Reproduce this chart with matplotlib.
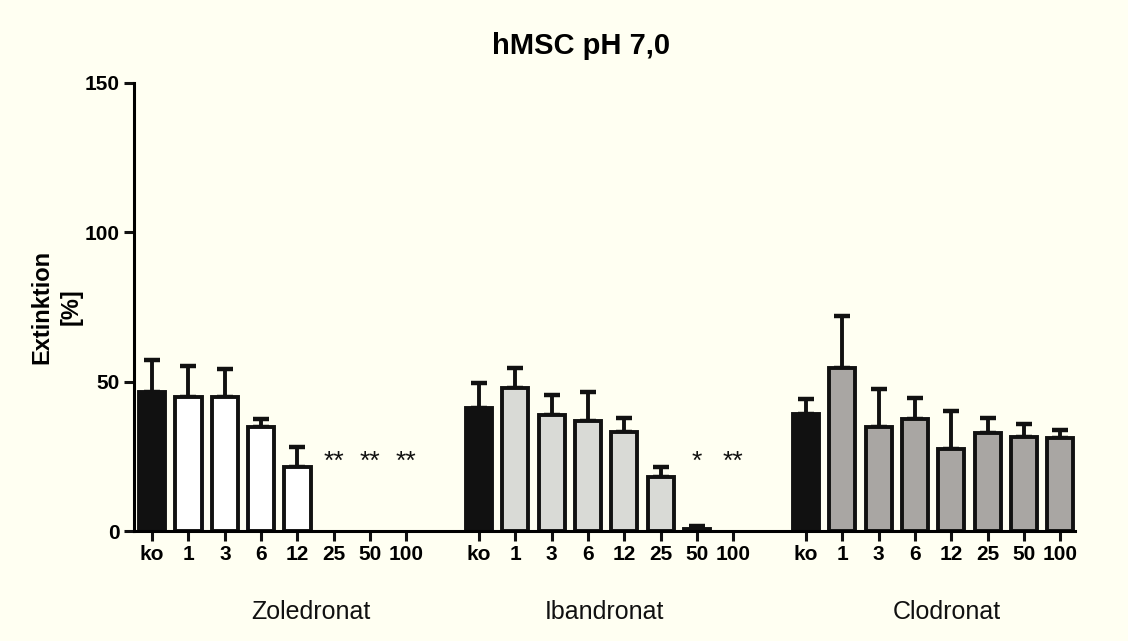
import matplotlib.pyplot as plt
import numpy as np

plt.rcParams['font.family'] = ['Liberation Sans', 'DejaVu Sans']

doses = ['ko', '1', '3', '6', '12', '25', '50', '100']
groups = ['Zoledronat', 'Ibandronat', 'Clodronat']

zol_mean = [46.5, 45.0, 45.0, 34.7, 21.5, 0, 0, 0]
zol_err = [10.7, 10.2, 9.2, 2.8, 6.7, 0, 0, 0]
iba_mean = [41.3, 47.8, 38.8, 36.9, 33.1, 18.0, 0.6, 0]
iba_err = [8.3, 6.7, 6.7, 9.7, 4.6, 3.5, 1.2, 0]
clo_mean = [39.1, 54.5, 34.8, 37.4, 27.3, 32.9, 31.5, 31.1]
clo_err = [5.2, 17.5, 12.8, 7.2, 12.9, 4.8, 4.3, 2.7]

zol_stars = ['', '', '', '', '', '**', '**', '**']
iba_stars = ['', '', '', '', '', '', '*', '**']
clo_stars = ['', '', '', '', '', '', '', '']

means = [zol_mean, iba_mean, clo_mean]
errs = [zol_err, iba_err, clo_err]
stars = [zol_stars, iba_stars, clo_stars]
colors = ['white', '#d9dad6', '#a9a6a3']
# group labels sit a bit off the group centre in the original
label_shift = [0.88, -0.05, 0.38]

bg = '#fffff2'
fig = plt.figure(figsize=(11.28, 6.41), dpi=100, facecolor=bg)
ax = fig.add_axes([0.1188, 0.1716, 0.834, 0.699])
ax.set_facecolor(bg)

xticks = []
xlabels = []
for g in range(3):
    x = np.arange(8) + g * 9
    m = np.array(means[g])
    cols = ['#111111'] + [colors[g]] * 7
    keep = m > 0
    ax.bar(x[keep], m[keep], width=0.72, color=np.array(cols)[keep],
           edgecolor='#111111', linewidth=2.8, zorder=2)
    for i in range(8):
        if errs[g][i] > 0:
            ax.errorbar(x[i], m[i], yerr=[[0], [errs[g][i]]],
                        fmt='none', ecolor='#111111', elinewidth=2.8,
                        capsize=6, capthick=3.2, zorder=1)
        if stars[g][i]:
            ax.text(x[i], 19, stars[g][i], ha='center', va='bottom',
                    fontsize=19, color='#111111')
    xticks += list(x)
    xlabels += doses
    ax.text(x.mean() + label_shift[g], -27, groups[g], ha='center', va='center',
            fontsize=18, color='#111111')

ax.set_xticks(xticks)
ax.set_xticklabels(xlabels, fontsize=15, fontweight='bold')
ax.set_xlim(-0.5, 25.4)
ax.set_ylim(0, 150)
ax.set_yticks([0, 50, 100, 150])
ax.set_yticklabels(['0', '50', '100', '150'], fontsize=15, fontweight='bold')
ax.tick_params(axis='both', direction='out', width=2.2, length=7, color='#111111',
               pad=3)
ax.spines['top'].set_visible(False)
ax.spines['right'].set_visible(False)
ax.spines['left'].set_linewidth(2.2)
ax.spines['bottom'].set_linewidth(2.2)
ax.set_ylabel('Extinktion\n[%]', fontsize=17, fontweight='bold', labelpad=2,
              linespacing=1.35)

fig.text(0.515, 0.928, 'hMSC pH 7,0', ha='center', va='center',
         fontsize=21, fontweight='bold')

fig.savefig('out.png', dpi=100, facecolor=bg)
